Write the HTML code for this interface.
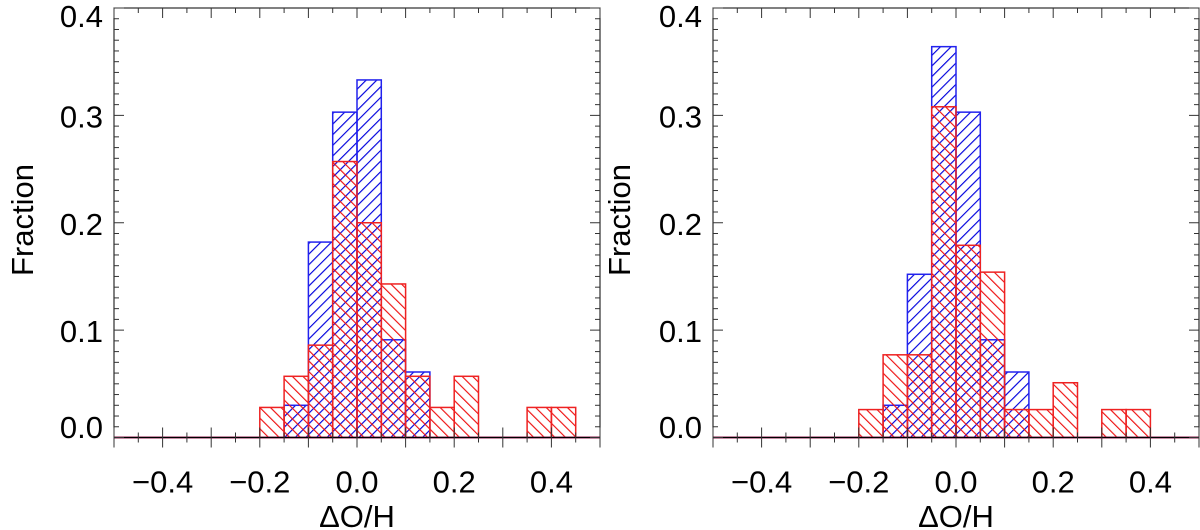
<!DOCTYPE html>
<html><head><meta charset="utf-8"><style>
html,body{margin:0;padding:0;background:#fff;}
svg{display:block;font-family:"Liberation Sans",Arial,sans-serif;}
</style></head><body>
<svg id="chart" width="1200" height="530" viewBox="0 0 1200 530" xmlns="http://www.w3.org/2000/svg">
<defs>
<pattern id="hatchBlue" patternUnits="userSpaceOnUse" width="7.5" height="7.5" patternTransform="rotate(45)">
<line x1="0" y1="0" x2="0" y2="7.5" stroke="#0000dd" stroke-width="2.3"/>
</pattern>
<pattern id="hatchRed" patternUnits="userSpaceOnUse" width="7.5" height="7.5" patternTransform="rotate(-45)">
<line x1="0" y1="0" x2="0" y2="7.5" stroke="#ee1111" stroke-width="2.3"/>
</pattern>
</defs>
</svg>
<script>
// bin left edges (ΔO/H), bin width 0.05
const binEdges = [-0.2,-0.15,-0.1,-0.05,0,0.05,0.1,0.15,0.2,0.25,0.3,0.35,0.4];
const leftBlue  = [0,0.030,0.182,0.303,0.333,0.091,0.061,0,0,0,0,0,0];
const leftRed   = [0.028,0.057,0.086,0.257,0.200,0.143,0.057,0.028,0.057,0,0,0.028,0.028];
const rightBlue = [0,0.030,0.152,0.364,0.303,0.091,0.061,0,0,0,0,0,0];
const rightRed  = [0.026,0.077,0.077,0.308,0.179,0.154,0.026,0.026,0.051,0,0.026,0.026,0];
const xTickLabels = ["\u22120.4","\u22120.2","0.0","0.2","0.4"];
const xTickValues = [-0.4,-0.2,0,0.2,0.4];
const yTickLabels = ["0.0","0.1","0.2","0.3","0.4"];
const yTickValues = [0,0.1,0.2,0.3,0.4];

const NS="http://www.w3.org/2000/svg";
const svg=document.getElementById('chart');
function mk(tag,attrs,parent){const e=document.createElementNS(NS,tag);for(const k in attrs)e.setAttribute(k,attrs[k]);(parent||svg).appendChild(e);return e;}

const YTOP=8, YBOT=437.5, YMAX=0.4;
function yScale(v){return YBOT-(v/YMAX)*(YBOT-YTOP);}

function panel(name,x0,x1,blue,red,labelRight,fracX){
  const g=mk('g',{});
  
  
  const xs=v=>x0+(v+0.5)*(x1-x0);
  const bw=0.05;
  function series(vals,fill,col,sname){
    const sg=mk('g',{},g);
    
    
    vals.forEach((v,i)=>{
      if(v<=0)return;
      const xa=xs(binEdges[i]),xb=xs(binEdges[i]+bw),yt=yScale(v);
      const r=mk('rect',{x:xa,y:yt,width:xb-xa,height:YBOT-yt,fill:fill,stroke:col,'stroke-width':1.5},sg);
      
      
    });
  }
  series(blue,'url(#hatchBlue)','#2222ee',name+'-blue-series');
  series(red,'url(#hatchRed)','#ee2222',name+'-red-series');
  // baseline
  mk('line',{x1:x0,y1:YBOT,x2:x1,y2:YBOT,stroke:'#8a1a4a','stroke-width':2},g);
  // frame
  const fr=mk('rect',{x:x0,y:YTOP,width:x1-x0,height:YBOT-YTOP,fill:'none',stroke:'#000','stroke-width':1},g);
  
  
  // x ticks
  for(let k=-10;k<=10;k++){
    const v=k*0.05, x=xs(v), major=(k%2===0);
    const L=major?10:5;
    mk('line',{x1:x,y1:YBOT-L,x2:x,y2:YBOT+ (major?10:5),stroke:'#333','stroke-width':1},g);
    mk('line',{x1:x,y1:YTOP,x2:x,y2:YTOP+L,stroke:'#333','stroke-width':1},g);
  }
  xTickValues.forEach((v,i)=>{
    const t=mk('text',{x:xs(v),y:492.7,'font-size':31,'text-anchor':'middle',fill:'#000'},g);
    t.textContent=xTickLabels[i];
    
    
  });
  // y ticks
  for(let k=0;k<=40;k++){
    const v=k*0.01,y=yScale(v),major=(k%10===0),L=major?10:5;
    mk('line',{x1:x0,y1:y,x2:x0+L,y2:y,stroke:'#333','stroke-width':1},g);
    mk('line',{x1:x1,y1:y,x2:x1-L,y2:y,stroke:'#333','stroke-width':1},g);
  }
  const yBase=[438,342.7,235,128,27];
  yTickValues.forEach((v,i)=>{
    let by=yScale(v)+12;
    if(i===0)by=438; if(i===yTickValues.length-1)by=27;
    const t=mk('text',{x:labelRight,y:by,'font-size':31,'text-anchor':'end',fill:'#000'},g);
    t.textContent=yTickLabels[i];
    
    
  });
  const xt=mk('text',{x:(x0+x1)/2,y:527,'font-size':31,'text-anchor':'middle',fill:'#000'},g);
  xt.textContent='\u0394O/H';
  
  
  const yt=mk('text',{x:0,y:0,'font-size':31,'text-anchor':'middle',fill:'#000',transform:'translate('+fracX+',220) rotate(-90)'},g);
  yt.textContent='Fraction';
  
  
}
panel('left-panel',114,600,leftBlue,leftRed,103,33);
panel('right-panel',713,1199,rightBlue,rightRed,702,630);
</script>
</body></html>
